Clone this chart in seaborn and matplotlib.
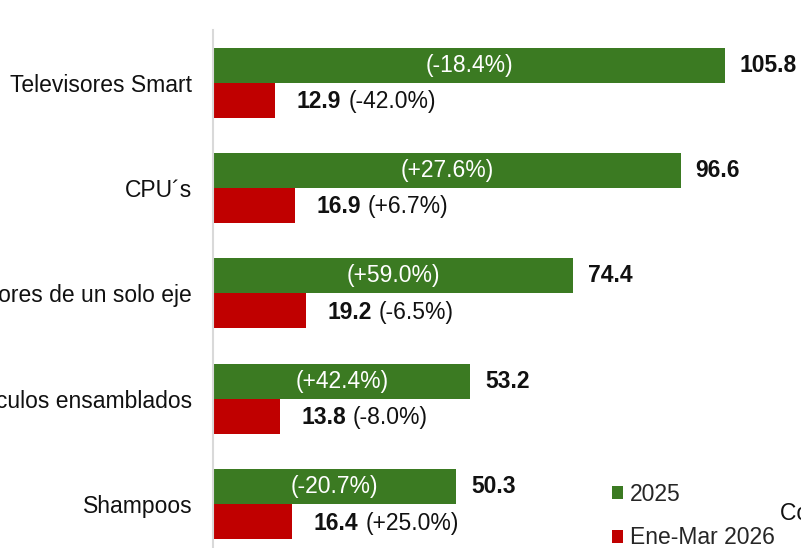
import matplotlib
matplotlib.use("Agg")
import matplotlib.pyplot as plt
from matplotlib.patches import Patch
import seaborn as sns
import pandas as pd

# data
categories = ["Televisores Smart", "CPU´s", "Motores de un solo eje",
              "Vehículos ensamblados", "Shampoos"]
vals_2025 = [105.8, 96.6, 74.4, 53.2, 50.3]
vals_2026 = [12.9, 16.9, 19.2, 13.8, 16.4]
pct_2025 = ["(-18.4%)", "(+27.6%)", "(+59.0%)", "(+42.4%)", "(-20.7%)"]
pct_2026 = ["(-42.0%)", "(+6.7%)", "(-6.5%)", "(-8.0%)", "(+25.0%)"]
series = ["2025", "Ene-Mar 2026"]

GREEN = "#3B7A22"
RED = "#C00000"
FS = 16.5

df = pd.DataFrame({
    "cat": categories * 2,
    "serie": [series[0]] * len(categories) + [series[1]] * len(categories),
    "val": vals_2025 + vals_2026,
})

sns.set_theme(style="white")
plt.rcParams["font.family"] = ["Liberation Sans", "DejaVu Sans"]

W, H = 801, 548
fig = plt.figure(figsize=(W / 100, H / 100), dpi=100)
# axes is a crop of a larger chart: left spine at x=213, top at y=30
ax = fig.add_axes([213 / W, 0, (W - 213) / W, 518 / H])

sns.barplot(data=df, y="cat", x="val", hue="serie", orient="h",
            palette=[GREEN, RED], width=0.665, saturation=1,
            legend=False, ax=ax, linewidth=0)

ax.set_xlim(0, (W - 213) / 4.84)
ax.set_ylim(4.416, -0.5)
ax.set_xlabel("")
ax.set_ylabel("")
ax.set_xticks([])
for s in ["top", "right", "bottom"]:
    ax.spines[s].set_visible(False)
ax.spines["left"].set_color("#D9D9D9")
ax.spines["left"].set_linewidth(1.5)
ax.tick_params(axis="y", length=0, pad=15, labelsize=FS, labelcolor="#111111")

green_bars = ax.containers[0]
red_bars = ax.containers[1]

for bar, pct in zip(green_bars, pct_2025):
    y = bar.get_y() + bar.get_height() / 2
    w = bar.get_width()
    ax.text(w / 2, y, pct, color="white", fontsize=FS, ha="center", va="center")
    ax.annotate(f"{w:.1f}", xy=(w, y), xytext=(10.5, 0), textcoords="offset points",
                ha="left", va="center", fontsize=FS, fontweight="bold", color="#111111")

for bar, pct in zip(red_bars, pct_2026):
    y = bar.get_y() + bar.get_height() / 2
    w = bar.get_width()
    t = ax.annotate(f"{w:.1f}", xy=(w, y), xytext=(15.5, -1), textcoords="offset points",
                    ha="left", va="center", fontsize=FS, fontweight="bold", color="#111111")
    ax.annotate(pct, xy=(1, 0.5), xycoords=t, xytext=(5, 0), textcoords="offset points",
                ha="left", va="center", fontsize=FS, color="#111111")

handles = [Patch(facecolor=GREEN, edgecolor="none"), Patch(facecolor=RED, edgecolor="none")]
fig.legend(handles, series, loc="center left", bbox_to_anchor=(612 / W, 1 - 516 / H),
           frameon=False, fontsize=FS, handlelength=0.5, handleheight=0.5,
           handletextpad=0.3, labelspacing=0.9, borderpad=0, borderaxespad=0)

fig.text(780 / W, 1 - 513 / H, "Con datos", fontsize=FS, ha="left", va="center",
         color="#111111")

fig.savefig("out.png", dpi=100)
